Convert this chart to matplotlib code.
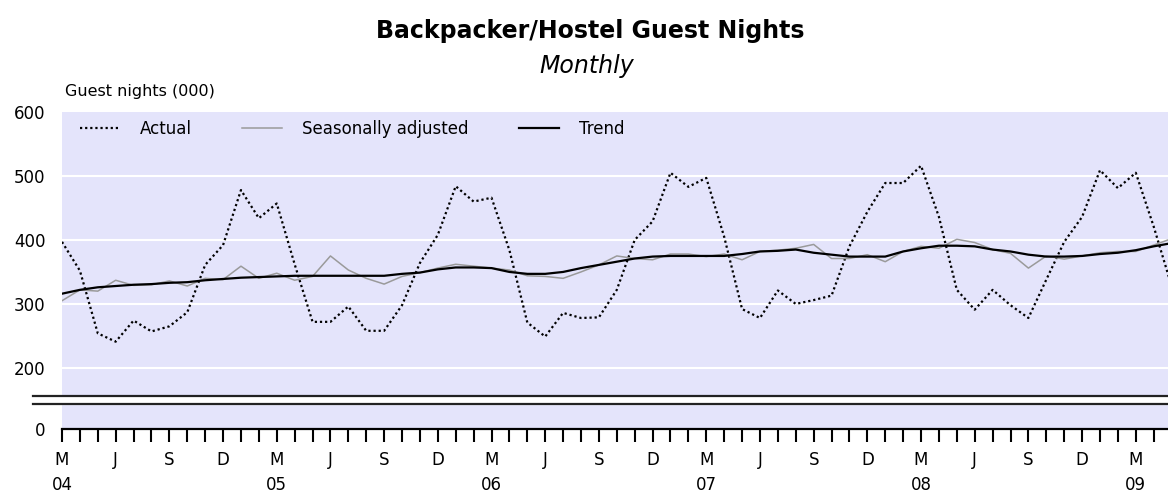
import matplotlib
matplotlib.use("Agg")
import matplotlib.pyplot as plt

# months from Mar 2004 (index 0) to May 2009 (index 62)
month_letters = ['M', 'A', 'M', 'J', 'J', 'A', 'S', 'O', 'N', 'D', 'J', 'F']
year_labels = ['04', '05', '06', '07', '08', '09']

actual = [397, 352, 254, 241, 274, 257, 265, 287, 361, 392, 478, 434,
          457, 362, 272, 272, 296, 258, 258, 298, 364, 408, 484, 460,
          466, 384, 271, 249, 286, 278, 279, 322, 400, 429, 505, 483,
          497, 405, 292, 278, 321, 300, 306, 313, 390, 444, 489, 489,
          516, 436, 322, 291, 322, 298, 278, 338, 397, 436, 509, 481,
          505, 421, 328]

seas_adj = [305, 322, 320, 337, 329, 330, 336, 328, 340, 338, 359, 340,
            348, 337, 343, 375, 353, 340, 331, 343, 349, 356, 362, 359,
            356, 353, 344, 343, 340, 350, 361, 375, 371, 369, 378, 378,
            374, 378, 369, 382, 384, 387, 393, 371, 371, 377, 366, 382,
            390, 387, 401, 396, 385, 379, 356, 375, 370, 375, 380, 382,
            382, 392, 402]

trend = [316, 322, 326, 328, 330, 331, 333, 334, 337, 339, 341, 342,
         343, 344, 344, 344, 344, 344, 344, 347, 349, 354, 357, 357,
         356, 350, 347, 347, 350, 356, 361, 366, 371, 374, 375, 375,
         375, 375, 378, 382, 383, 385, 380, 377, 374, 374, 374, 382,
         387, 391, 391, 390, 385, 382, 377, 374, 374, 375, 378, 380,
         384, 390, 395]

y_ticks = [200, 300, 400, 500, 600]
y_bottom = 104.5          # broken axis: bottom of the axis is shown as 0
break_lo, break_hi = 143.3, 156.3

x = list(range(len(actual)))
n_ticks = 62              # Mar 2004 .. Apr 2009

fig = plt.figure(figsize=(11.68, 4.93), dpi=100)
ax = fig.add_axes([62 / 1168, 64 / 493, 1106 / 1168, 317 / 493])
ax.set_facecolor('#E4E4FB')

for v in y_ticks[:-1]:
    ax.axhline(v, color='white', lw=1.5, zorder=1)

# axis break
ax.axhspan(break_lo, break_hi, color='white', zorder=1)
trans = ax.get_yaxis_transform()
for yb in (break_lo, break_hi):
    ax.plot([-0.0262, 1], [yb, yb], transform=trans, color='#222222',
            lw=1.6, clip_on=False, zorder=3)

ax.plot(x, actual, color='black', lw=1.6, linestyle=(0, (1, 1.3)),
        label='Actual', zorder=4)
ax.plot(x, seas_adj, color='#9A9A9A', lw=1.1, label='Seasonally adjusted',
        zorder=4)
ax.plot(x, trend, color='black', lw=1.6, label='Trend', zorder=5)

ax.set_xlim(0, 61.8)
ax.set_ylim(y_bottom, 600)

ax.set_yticks([y_bottom] + y_ticks)
ax.set_yticklabels(['0'] + [str(v) for v in y_ticks], fontsize=12)
ax.tick_params(axis='y', length=0, pad=12)

ticks = list(range(n_ticks))
ax.set_xticks(ticks)
ax.set_xticklabels([month_letters[i % 12] if i % 3 == 0 else '' for i in ticks],
                   fontsize=12)
ax.tick_params(axis='x', direction='out', length=9, width=1.5, pad=7,
               color='black')
xt = ax.get_xaxis_transform()
for k, yl in enumerate(year_labels):
    ax.text(k * 12, -0.177, yl, transform=xt, ha='center', va='center',
            fontsize=12)

for s in ('left', 'top', 'right'):
    ax.spines[s].set_visible(False)
ax.spines['bottom'].set_linewidth(1.6)
ax.spines['bottom'].set_zorder(6)

ax.legend(loc='upper left', bbox_to_anchor=(0.0163, 0.975), frameon=False,
          ncol=3, fontsize=12, borderaxespad=0, borderpad=0,
          handlelength=2.4, handletextpad=1.2, columnspacing=3.0)

fig.text(590 / 1168, 1 - 31 / 493, 'Backpacker/Hostel Guest Nights',
         ha='center', va='center', fontsize=17, fontweight='bold')
fig.text(587 / 1168, 1 - 66 / 493, 'Monthly', ha='center', va='center',
         fontsize=17, style='italic')
fig.text(65 / 1168, 1 - 92 / 493, 'Guest nights (000)', ha='left',
         va='center', fontsize=11.5)

fig.savefig('out.png', dpi=100)
